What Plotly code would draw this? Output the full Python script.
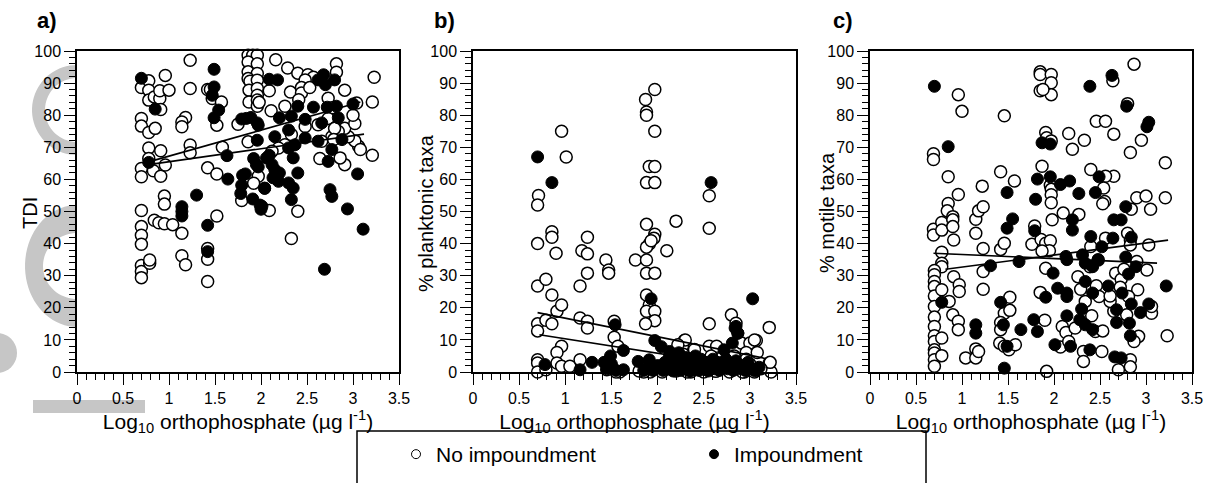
import plotly.graph_objects as go
import numpy as np

# ---------------- data ----------------
# Panel a: TDI
a_open_x = [0.70,0.78,0.78,0.78,0.84,0.90,0.90,0.96,1.00,0.91,0.70,0.70,0.78,0.85,0.78,0.91,0.78,0.70,0.70,0.83,0.91,0.96,
            0.70,0.70,0.70,0.70,0.70,0.70,0.70,0.79,0.79,0.84,0.89,0.95,1.04,0.95,0.95,
            1.23,1.23,1.18,1.14,1.14,1.23,1.23,1.14,1.14,1.18,1.42,1.45,1.47,1.57,1.52,1.42,1.52,1.58,1.52,1.42,1.42,1.42,1.75,
            1.86,1.91,1.96,1.86,1.96,1.86,1.96,1.86,1.88,1.96,1.87,1.96,1.96,1.87,1.96,1.96,1.86,1.97,1.92,1.79,
            2.16,2.29,2.40,2.51,2.57,2.48,2.82,2.82,3.23,2.09,2.32,2.44,2.44,2.53,2.73,2.91,1.98,2.11,2.26,2.41,2.77,3.04,3.21,
            3.21,3.06,3.02,2.95,2.91,2.84,2.77,2.64,2.91,2.86,3.02,3.00,2.73,2.80,2.62,2.48,2.33,2.26,2.19,2.12,2.40,2.33,2.09,
            3.08,2.66,2.79]
a_open_y = [88.6,90.7,87.8,84.7,85.7,85.2,87.6,92.4,87.8,81.8,79.0,76.6,74.6,75.9,69.8,68.9,66.5,63.4,60.8,62.7,61.0,64.5,
            50.3,45.3,42.6,39.8,33.2,31.3,29.4,33.9,34.9,47.3,46.5,46.2,45.9,54.8,52.3,
            97.1,88.3,79.3,77.9,76.4,70.7,68.3,43.2,36.2,33.4,88.0,88.0,85.2,84.1,76.9,63.6,61.7,70.0,48.6,38.5,35.1,28.2,77.2,
            98.7,98.7,98.7,96.6,96.0,93.5,93.0,91.4,90.6,90.9,87.8,88.3,86.2,84.1,84.7,82.8,71.7,61.0,58.8,53.4,
            97.3,94.7,93.1,92.6,91.8,91.0,96.0,93.4,91.8,87.6,87.2,88.6,86.9,88.6,85.3,87.8,84.0,81.4,82.8,84.8,82.3,83.8,84.1,
            67.5,70.3,72.0,73.3,75.9,74.9,73.3,66.5,64.6,66.7,77.4,80.0,79.0,75.9,77.0,76.5,74.0,70.8,69.8,68.8,50.1,41.6,50.3,
            69.3,71.9,72.4]
a_fill_x = [0.70,0.85,0.78,1.14,1.14,1.14,1.30,1.49,1.49,1.47,1.54,1.49,1.63,1.64,1.42,1.42,1.79,1.84,1.89,1.97,1.96,1.92,
            1.97,1.83,1.80,1.79,1.78,1.91,2.04,1.99,2.00,2.09,
            2.18,2.68,2.80,2.62,2.70,2.40,2.57,2.72,2.82,3.00,2.20,2.33,2.48,2.66,2.84,1.96,2.15,2.30,2.37,2.48,2.30,2.62,
            2.77,2.88,2.73,2.06,2.12,2.17,2.19,1.95,2.35,2.40,2.30,2.35,2.75,2.77,2.33,2.01,2.94,3.05,3.11,2.69,2.04,
            2.15,2.20,2.13,2.09]
a_fill_y = [91.5,81.9,65.3,51.5,50.0,48.6,55.1,94.3,88.8,86.2,81.6,79.2,67.4,60.1,45.7,37.5,78.8,79.0,79.3,76.9,72.2,66.5,
            63.9,61.7,61.3,58.2,55.6,53.9,57.2,52.0,50.7,91.2,
            91.0,92.6,91.0,91.0,89.5,82.8,82.5,82.5,82.8,83.5,79.2,79.7,78.7,77.6,79.2,77.6,73.3,75.4,70.8,72.9,69.8,71.9,
            69.3,72.4,65.6,66.7,64.6,61.0,59.4,64.6,66.7,62.0,58.9,57.3,56.8,54.7,53.7,51.6,50.8,61.7,44.5,32.0,57.3,
            63.0,62.0,60.5,67.5]
a_fit1_x = [0.72, 3.08]
a_fit1_y = [65.0, 84.1]
a_fit2_x = [0.76, 3.12]
a_fit2_y = [64.5, 74.1]

# Panel b: % planktonic taxa
b_open_x = [0.71,0.70,0.70,0.70,0.79,0.855,0.855,0.90,0.855,0.96,1.01,0.91,0.96,0.70,0.70,0.79,0.855,0.96,0.91,0.91,0.96,
            0.70,0.70,0.70,0.79,1.05,1.16,1.16,1.18,1.24,1.24,1.24,1.16,1.24,1.24,1.44,1.47,1.47,1.53,1.53,1.57,1.59,1.45,
            1.76,1.87,1.88,1.88,1.97,1.97,1.91,1.97,1.88,1.97,1.88,1.97,1.96,1.91,1.88,1.93,1.88,1.88,1.97,2.10,2.20,1.88,
            1.91,1.88,1.97,1.97,1.87,2.56,2.56,2.56,2.29,2.27,2.39,2.56,2.64,2.80,2.85,2.91,3.00,3.07,2.96,3.08,3.21,3.21,
            3.23,2.94,2.30,3.05,3.22,
            2.05,2.12,2.20,2.28,2.36,2.44,2.50,2.58,2.63,2.70,2.78,2.86,2.92,3.00,3.05,3.12,2.40,2.22,1.92,1.85,1.96,2.15,
            2.32,2.48,2.66,2.83,2.96,1.55,1.47,1.80]
b_open_y = [55.0,52.0,40.0,26.8,28.9,43.7,42.0,37.0,24.0,75.0,67.0,18.9,20.9,15.0,12.8,16.1,15.0,8.0,6.1,2.8,1.8,
            3.8,2.8,0.0,0.7,1.8,3.8,26.8,37.8,42.0,36.8,30.8,16.8,15.8,13.7,34.9,31.8,30.8,15.8,10.8,8.0,0.0,0.7,
            34.9,84.9,81.0,80.0,88.0,75.0,64.0,64.0,59.0,59.0,46.0,42.9,41.7,39.9,38.9,40.9,34.9,30.8,30.8,37.8,47.0,24.0,
            20.9,18.9,18.9,16.0,15.0,54.9,44.8,15.0,9.8,8.0,5.9,8.0,8.0,17.8,15.2,9.0,9.0,9.8,6.1,6.1,13.9,2.8,
            0.0,0.0,10.0,10.0,3.0,
            0.0,2.5,0.3,5.5,0.0,3.0,0.0,5.0,0.2,4.5,0.0,2.0,0.0,2.5,0.0,1.0,7.0,8.5,0.0,0.0,1.5,0.8,
            0.0,1.2,1.5,5.0,4.0,0.0,1.5,0.3]
b_fill_x = [0.70,0.855,2.58,1.93,3.03,1.97,1.54,1.63,1.29,1.49,2.72,2.85,2.87,2.81,0.78,1.16,1.63,1.79,1.91,
            2.84,2.87,2.04,2.13,
            2.02,2.06,2.08,2.10,2.13,2.15,2.17,2.19,2.21,2.23,2.25,2.27,2.29,2.31,2.33,2.35,2.37,2.39,2.41,2.43,2.45,
            2.47,2.50,2.52,2.55,2.58,2.60,2.62,2.65,2.67,2.70,2.74,2.76,2.79,2.82,2.85,2.88,2.91,2.95,2.98,3.02,3.06,
            3.10,1.85,1.90,1.95,2.00,1.45,1.50,1.42,1.55]
b_fill_y = [67.0,59.0,59.0,22.8,22.8,9.8,14.7,6.7,3.0,5.0,6.9,14.2,12.1,9.0,2.3,0.7,0.7,3.3,3.8,
            13.7,12.1,7.9,6.4,
            1.5,0.5,3.0,1.0,5.0,2.0,0.3,4.0,1.5,6.0,0.5,3.0,1.0,4.5,2.0,0.2,3.5,1.0,5.0,2.5,0.5,
            4.0,1.5,3.0,0.3,2.0,4.0,1.0,3.0,0.5,2.0,4.0,1.0,2.5,0.5,3.5,1.0,2.0,0.5,3.0,1.0,0.3,
            1.5,0.5,1.5,0.5,2.0,1.0,2.5,3.0,0.5]
b_fit1_x = [0.70, 3.17]
b_fit1_y = [18.5, 4.2]
b_fit2_x = [0.72, 3.10]
b_fit2_y = [11.6, 0.9]

# Panel c: % motile taxa
c_open_x = [0.69,0.69,0.69,0.69,0.96,1.00,0.85,0.96,0.85,0.84,0.78,0.78,0.78,0.90,0.90,0.90,0.91,0.78,0.78,0.70,0.70,
            0.70,0.70,0.70,0.70,0.70,0.70,0.70,0.70,0.70,0.70,0.70,0.70,0.78,0.78,0.78,0.86,0.91,0.90,0.96,0.96,0.97,
            0.97,1.04,1.15,1.15,1.18,1.15,1.15,1.18,1.23,1.23,1.23,1.23,1.22,1.42,1.57,1.46,1.42,1.46,1.46,1.52,1.52,
            1.42,1.42,1.41,1.46,1.51,1.58,1.76,1.79,1.85,1.85,1.97,1.97,1.97,1.85,1.88,1.91,1.92,1.97,1.87,1.96,1.97,
            1.97,1.97,1.98,1.86,1.91,1.96,1.95,1.87,1.91,1.85,1.90,1.92,2.07,2.10,2.09,2.13,2.16,2.16,2.20,2.27,2.26,
            2.29,2.23,2.33,2.40,2.40,2.39,2.34,2.41,2.32,2.32,2.46,2.56,2.65,2.65,2.56,2.54,2.55,2.53,2.56,2.48,2.46,
            2.49,2.45,2.52,2.53,2.64,2.87,2.80,2.83,2.95,2.90,3.00,3.05,3.21,3.21,2.84,2.80,2.83,2.83,3.03,2.90,3.01,
            2.91,3.05,3.06,3.06,3.23,2.92,2.87,2.83,2.83,2.70,2.65,2.61,2.61,2.67,2.73,2.76,2.72,2.81,2.79]
c_open_y = [44.5,42.7,68.0,66.2,86.4,81.2,60.8,55.3,52.5,50.2,46.6,44.2,37.3,48.4,47.4,45.3,41.1,33.9,32.8,31.6,30.3,
            28.2,26.6,23.7,20.4,17.1,14.2,11.3,9.5,6.9,5.9,3.8,1.8,25.6,10.6,5.1,22.0,29.7,17.8,15.8,13.2,27.2,
            25.1,4.4,7.2,4.4,6.4,43.2,47.6,50.2,51.5,38.5,31.3,25.8,57.9,62.4,59.5,79.8,38.2,40.1,18.3,23.3,19.2,
            15.4,13.2,9.0,8.0,6.9,8.5,39.8,45.5,93.5,92.7,92.7,90.1,86.4,87.6,88.0,74.6,73.0,72.0,64.1,58.2,56.9,
            55.2,52.7,47.4,41.3,40.1,40.9,37.8,37.7,32.3,24.8,16.1,0.2,7.8,49.5,14.2,12.3,9.5,74.3,69.4,49.1,29.7,
            25.8,13.7,72.2,63.1,39.1,32.8,22.0,17.5,6.4,3.3,78.1,78.1,74.1,61.0,61.0,57.3,53.1,52.4,41.7,34.9,26.9,
            23.5,12.6,6.4,12.8,90.7,95.9,83.6,68.4,72.2,54.3,54.8,50.7,65.2,54.3,50.7,43.2,41.1,39.6,39.6,34.4,31.8,
            25.6,19.4,18.3,20.4,11.3,11.1,9.5,3.8,1.6,0.7,18.9,22.0,23.7,30.8,28.9,32.0,26.4,23.5,17.8]
c_fill_x = [0.70,0.85,1.49,1.55,1.49,1.82,1.80,1.79,1.87,1.96,1.96,2.07,2.17,2.20,2.20,2.27,2.39,2.63,2.79,3.03,3.01,
            2.49,2.45,2.65,2.73,2.78,2.64,2.84,1.42,1.45,1.49,1.46,1.15,1.15,1.31,1.62,1.64,1.78,1.82,1.91,1.99,2.04,
            2.01,2.13,2.14,2.14,2.14,2.18,2.31,2.34,2.34,2.40,2.42,2.42,2.30,2.28,2.34,2.42,2.39,2.59,2.68,2.68,2.66,
            2.73,2.74,2.78,2.81,2.84,2.82,2.83,2.89,2.94,3.03,3.22,0.78,2.52,2.48,2.14]
c_fill_y = [89.0,70.2,55.9,47.7,44.8,60.1,53.8,44.0,71.4,71.0,60.8,58.4,59.5,47.4,44.2,55.6,89.0,92.4,82.8,77.8,76.4,
            60.8,55.9,47.4,47.4,51.5,41.7,42.0,21.7,14.7,8.0,1.2,14.7,12.1,33.1,34.4,13.2,16.3,12.6,23.3,30.8,26.1,
            8.5,36.0,23.5,24.6,17.5,8.0,36.5,33.9,28.2,42.2,32.8,24.6,19.6,16.3,14.7,13.2,6.9,26.8,19.4,15.4,4.7,
            4.4,24.6,35.8,30.5,21.2,15.2,11.3,32.8,18.5,21.2,26.8,21.7,39.0,35.0,35.0]
c_fit1_x = [0.69, 3.12]
c_fit1_y = [37.0, 33.9]
c_fit2_x = [0.82, 3.24]
c_fit2_y = [32.0, 41.1]

panel_labels = ["a)", "b)", "c)"]
y_titles = ["TDI", "% planktonic taxa", "% motile taxa"]
x_title = "Log<sub>10</sub> orthophosphate (µg l<sup>-1</sup>)"
legend_names = ["No impoundment", "Impoundment"]
x_ticks = [0, 0.5, 1, 1.5, 2, 2.5, 3, 3.5]
x_ticklabels = ["0", "0.5", "1", "1.5", "2", "2.5", "3", "3.5"]
y_ticks = list(range(0, 101, 10))

# ---------------- figure ----------------
W, H = 1212, 483
FONT = "Arial, Liberation Sans, sans-serif"
WM_GRAY = "#c6c6c6"

def px_x(p):
    return p / W

def px_y(p):
    return 1 - p / H

def half_ring_path(cx, cy, rxo, ryo, rxi, ryi, n=40):
    """left half of an elliptical ring (pixel coords) -> paper path"""
    t_out = np.linspace(np.pi / 2, 3 * np.pi / 2, n)
    t_in = t_out[::-1]
    pts = [(cx + rxo * np.cos(t), cy - ryo * np.sin(t)) for t in t_out]
    pts += [(cx + rxi * np.cos(t), cy - ryi * np.sin(t)) for t in t_in]
    return "M " + " L ".join("%.5f,%.5f" % (px_x(x), px_y(y)) for x, y in pts) + " Z"

def poly_path(pts):
    return "M " + " L ".join("%.5f,%.5f" % (px_x(x), px_y(y)) for x, y in pts) + " Z"

def ellipse_path(cx, cy, rx, ry, n=40):
    t = np.linspace(0, 2 * np.pi, n, endpoint=False)
    return poly_path([(cx + rx * np.cos(a), cy - ry * np.sin(a)) for a in t])

panels = [
    dict(ox=a_open_x, oy=a_open_y, fx=a_fill_x, fy=a_fill_y,
         fits=[(a_fit1_x, a_fit1_y), (a_fit2_x, a_fit2_y)], left=77, right=399, ytx=30),
    dict(ox=b_open_x, oy=b_open_y, fx=b_fill_x, fy=b_fill_y,
         fits=[(b_fit1_x, b_fit1_y), (b_fit2_x, b_fit2_y)], left=473, right=796, ytx=426),
    dict(ox=c_open_x, oy=c_open_y, fx=c_fill_x, fy=c_fill_y,
         fits=[(c_fit1_x, c_fit1_y), (c_fit2_x, c_fit2_y)], left=870, right=1192, ytx=827),
]
TOP, BOTTOM = 51, 372

fig = go.Figure()
layout = dict(width=W, height=H, margin=dict(l=0, r=0, t=0, b=0, autoexpand=False),
              paper_bgcolor="white", plot_bgcolor="white",
              font=dict(family=FONT, size=16, color="black"),
              showlegend=True)

annotations = []
for i, p in enumerate(panels):
    n = "" if i == 0 else str(i + 1)
    xa, ya = "x" + n, "y" + n
    fig.add_trace(go.Scatter(x=p["ox"], y=p["oy"], mode="markers", xaxis=xa, yaxis=ya,
                             marker=dict(symbol="circle", size=12, color="white",
                                         line=dict(color="black", width=1.5)),
                             showlegend=False, cliponaxis=False))
    for fx_, fy_ in p["fits"]:
        fig.add_trace(go.Scatter(x=fx_, y=fy_, mode="lines", xaxis=xa, yaxis=ya,
                                 line=dict(color="black", width=1.7),
                                 showlegend=False))
    fig.add_trace(go.Scatter(x=p["fx"], y=p["fy"], mode="markers", xaxis=xa, yaxis=ya,
                             marker=dict(symbol="circle", size=12, color="black",
                                         line=dict(color="black", width=1)),
                             showlegend=False, cliponaxis=False))
    axcommon = dict(showline=True, linecolor="black", linewidth=1.5, mirror=True,
                    ticks="outside", tickcolor="black", tickwidth=1.2, ticklen=11,
                    showgrid=False, zeroline=False, automargin=False,
                    tickfont=dict(family=FONT, size=16, color="black"))
    layout["xaxis" + n] = dict(axcommon, domain=[px_x(p["left"]), px_x(p["right"])],
                               anchor=ya, range=[0, 3.5], tickvals=x_ticks, ticktext=x_ticklabels,
                               minor=dict(dtick=0.1, ticklen=6, tickcolor="black", tickwidth=1.2, ticks="outside"),
                               title=dict(text=x_title, font=dict(family=FONT, size=21), standoff=8))
    layout["yaxis" + n] = dict(axcommon, domain=[px_y(BOTTOM), px_y(TOP)],
                               anchor=xa, range=[0, 100], tickvals=y_ticks,
                               minor=dict(dtick=2, ticklen=6, tickcolor="black", tickwidth=1.2, ticks="outside"))
    annotations.append(dict(text=y_titles[i], x=px_x(p["ytx"]), y=px_y(213),
                            xref="paper", yref="paper", xanchor="center", yanchor="middle",
                            textangle=-90, showarrow=False,
                            font=dict(family=FONT, size=20, color="black")))

# legend-only traces
fig.add_trace(go.Scatter(x=[None], y=[None], mode="markers", name=legend_names[0],
                         marker=dict(symbol="circle", size=9, color="white", line=dict(color="black", width=1))))
fig.add_trace(go.Scatter(x=[None], y=[None], mode="markers", name=legend_names[1],
                         marker=dict(symbol="circle", size=9, color="black", line=dict(color="black", width=1))))

layout["legend"] = dict(orientation="h", x=px_x(396), y=px_y(434), xanchor="left", yanchor="top",
                        entrywidth=253, entrywidthmode="pixels",
                        font=dict(family=FONT, size=21, color="black"),
                        bgcolor="rgba(0,0,0,0)", borderwidth=0, itemsizing="trace")

for lab, xp in zip(panel_labels, [35, 432, 831]):
    annotations.append(dict(text="<b>%s</b>" % lab, x=px_x(xp), y=px_y(20), xref="paper", yref="paper",
                            xanchor="left", yanchor="middle", showarrow=False,
                            font=dict(family=FONT, size=22, color="black")))
layout["annotations"] = annotations

shapes = [
    # faint background watermark visible in the left margin
    dict(type="path", xref="paper", yref="paper", layer="below", line=dict(width=0), fillcolor=WM_GRAY,
         path=half_ring_path(77, 110, 45, 45, 32, 32)),
    dict(type="path", xref="paper", yref="paper", layer="below", line=dict(width=0), fillcolor=WM_GRAY,
         path=half_ring_path(77, 266, 52, 61, 34, 33)),
    dict(type="path", xref="paper", yref="paper", layer="below", line=dict(width=0), fillcolor=WM_GRAY,
         path=ellipse_path(-3, 353, 20, 20)),
    dict(type="path", xref="paper", yref="paper", layer="below", line=dict(width=0), fillcolor=WM_GRAY,
         path=poly_path([(33, 400), (145, 400), (145, 413), (33, 413)])),
    # legend frame
    dict(type="rect", xref="paper", yref="paper", x0=px_x(357), x1=px_x(926),
         y0=-0.1, y1=px_y(431), line=dict(color="black", width=1.5), fillcolor="rgba(0,0,0,0)"),
]
layout["shapes"] = shapes

fig.update_layout(**layout)
fig.write_html("out.html", config={"displayModeBar": False},
               post_script="document.body.style.margin='0';document.body.style.overflow='hidden';")
